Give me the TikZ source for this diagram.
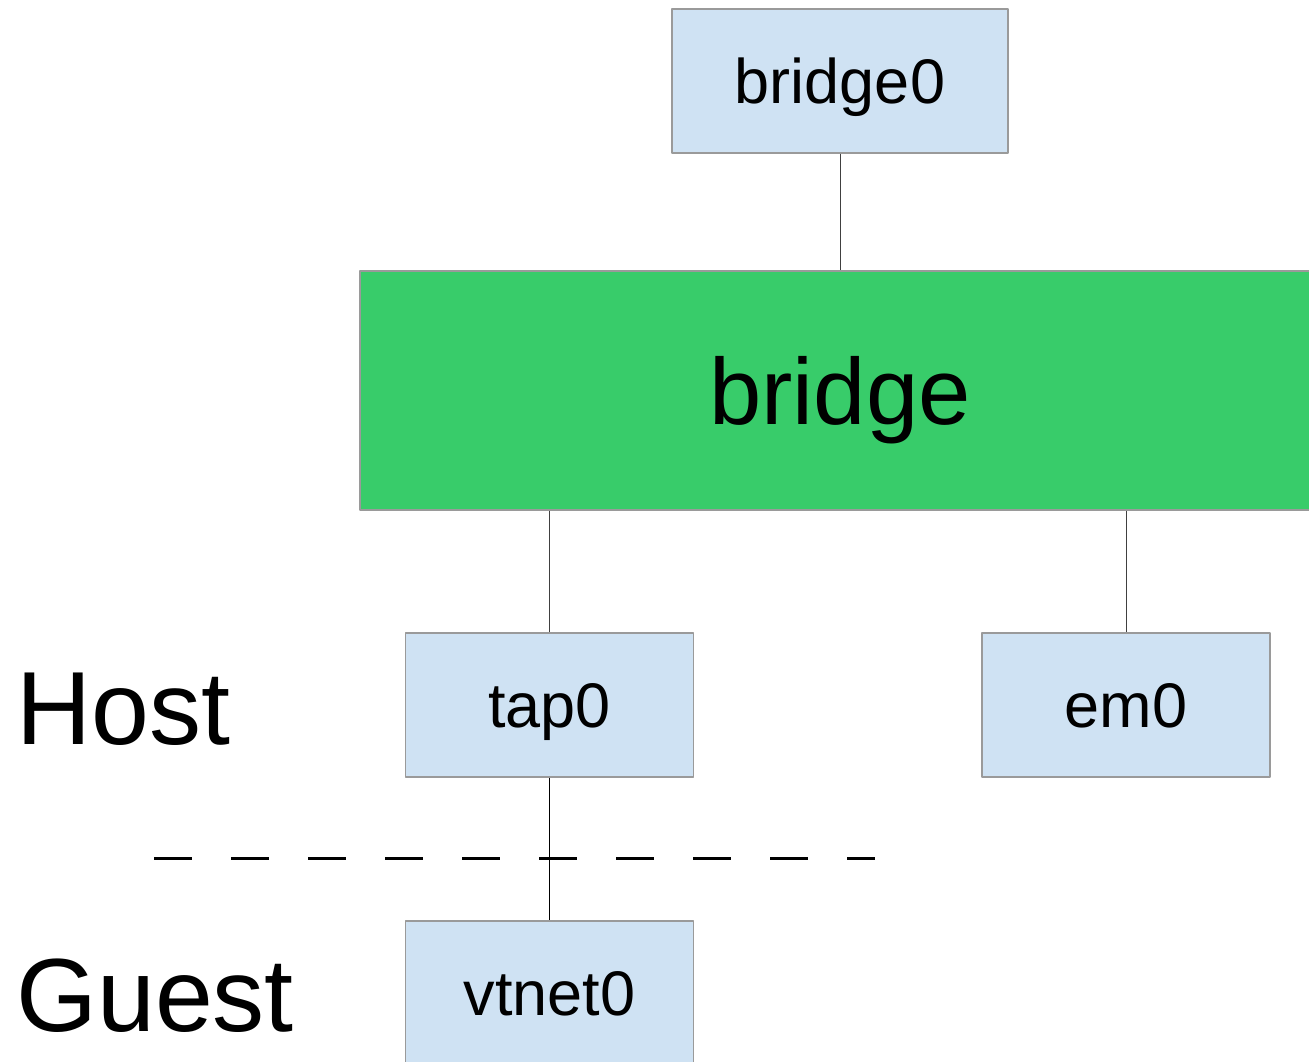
\documentclass[tikz,border=0pt]{standalone}
\usepackage{fontspec}
\setmainfont{Liberation Sans}
\definecolor{ifblue}{HTML}{CFE2F3}
\definecolor{brgreen}{HTML}{38CC6A}
\definecolor{edgegray}{HTML}{9A9A9A}
\tikzset{
	ifbox/.style={draw=edgegray, fill=ifblue, line width=0.6pt, inner sep=0pt,
		text height=22.7pt, text depth=0pt,
		minimum width=144pt, minimum height=72pt, font=\fontsize{31.5}{36}\selectfont},
	brbox/.style={draw=edgegray, fill=brgreen, line width=0.6pt, inner sep=0pt,
		text height=33.8pt, text depth=0pt,
		minimum width=480pt, minimum height=119.5pt, font=\fontsize{47}{54}\selectfont},
	side/.style={anchor=west, inner sep=0pt, font=\fontsize{52}{60}\selectfont},
	link/.style={draw=black!75, line width=0.5pt}
}
\begin{document}
\begin{tikzpicture}[x=0.5pt, y=-0.5pt, line join=round]
	\useasboundingbox (0,0) rectangle (1309,1061);
	\begin{scope}
		\clip (0,0) rectangle (1309,1061);
		% interfaces and the bridge between them
		\node[ifbox, minimum width=168pt] (bridge0) at (840,81) {bridge0};
		\node[brbox] (bridge) at (840,390.5) {bridge};
		\node[ifbox] (tap0) at (549.5,705) {tap0};
		\node[ifbox] (em0) at (1126,705) {em0};
		\node[ifbox] (vtnet0) at (549.5,993) {vtnet0};

		\draw[link] (bridge0.south) -- (bridge.north);
		\draw[link] (tap0.north |- bridge.south) -- (tap0.north);
		\draw[link] (em0.north |- bridge.south) -- (em0.north);
		\draw[link, draw=black] (tap0.south) -- (vtnet0.north);
	\end{scope}

	% host / guest split
	\node[side] (host) at (16,709) {Host};
	\node[side] (guest) at (16,996) {Guest};
	\coordinate (splitL) at (154,858);
	\coordinate (splitR) at (875,858);
	\draw[line width=1.5pt, dash pattern=on 19pt off 19.5pt] (splitL) -- (splitR);
\end{tikzpicture}
\end{document}
